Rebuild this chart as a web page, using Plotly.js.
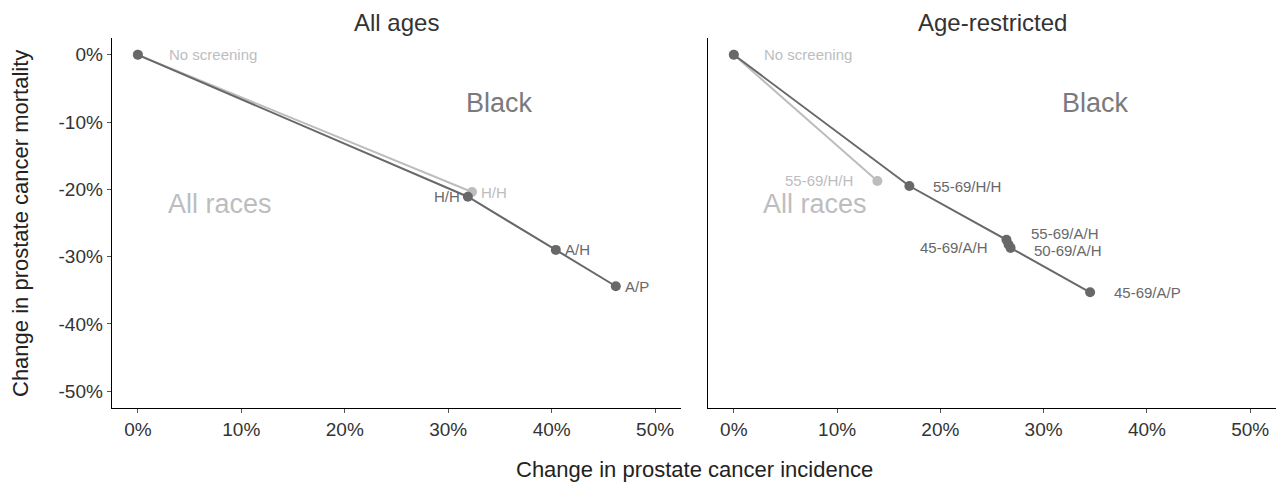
<!DOCTYPE html>
<html>
<head>
<meta charset="utf-8">
<script src="https://cdn.plot.ly/plotly-3.0.1.min.js"></script>
<style>html,body{margin:0;padding:0;background:#fff;}#chart{width:1282px;height:483px;}</style>
</head>
<body>
<div id="chart"></div>
<script>
// ---- Data (percent) ----
// Panel 1: All ages
const allAgesAllRacesX = [0, 32.3];
const allAgesAllRacesY = [0, -20.4];
const allAgesAllRacesLabels = ["No screening", "H/H"];
const allAgesBlackX = [0, 31.9, 40.4, 46.2];
const allAgesBlackY = [0, -21.1, -29.0, -34.4];
const allAgesBlackLabels = ["", "H/H", "A/H", "A/P"];
// Panel 2: Age-restricted
const ageRestAllRacesX = [0, 13.9];
const ageRestAllRacesY = [0, -18.75];
const ageRestAllRacesLabels = ["No screening", "55-69/H/H"];
const ageRestBlackX = [0, 17.0, 26.4, 26.6, 26.8, 34.5];
const ageRestBlackY = [0, -19.5, -27.5, -28.2, -28.7, -35.3];
const ageRestBlackLabels = ["", "55-69/H/H", "55-69/A/H", "50-69/A/H", "45-69/A/H", "45-69/A/P"];
const panelTitles = ["All ages", "Age-restricted"];
const xTickVals = [0, 10, 20, 30, 40, 50];
const xTickText = ["0%", "10%", "20%", "30%", "40%", "50%"];
const yTickVals = [0, -10, -20, -30, -40, -50];
const yTickText = ["0%", "-10%", "-20%", "-30%", "-40%", "-50%"];

const LIGHT = "#bdbdc0";
const DARK = "#68686b";
const FONT = "Liberation Sans, Arial, sans-serif";

function tr(x, y, color, xa, ya) {
  return {x: x, y: y, type: "scatter", mode: "lines+markers", xaxis: xa, yaxis: ya,
    line: {color: color, width: 2}, marker: {color: color, size: 10}, hoverinfo: "skip", showlegend: false};
}
const data = [
  tr(allAgesAllRacesX, allAgesAllRacesY, LIGHT, "x", "y"),
  tr(allAgesBlackX, allAgesBlackY, DARK, "x", "y"),
  tr(ageRestAllRacesX, ageRestAllRacesY, LIGHT, "x2", "y2"),
  tr(ageRestBlackX, ageRestBlackY, DARK, "x2", "y2")
];

const ann = [];
function lab(xs, ys, labels, i, xr, yr, color, xanchor, xshift, yshift) {
  ann.push({x: xs[i], y: ys[i], xref: xr, yref: yr, text: labels[i], showarrow: false,
    xanchor: xanchor, yanchor: "middle", xshift: xshift, yshift: yshift || 0, borderpad: 0,
    font: {family: FONT, size: 15, color: color}});
}
// Panel 1 labels
lab(allAgesAllRacesX, allAgesAllRacesY, allAgesAllRacesLabels, 0, "x", "y", LIGHT, "left", 30);
lab(allAgesAllRacesX, allAgesAllRacesY, allAgesAllRacesLabels, 1, "x", "y", LIGHT, "left", 8);
lab(allAgesBlackX, allAgesBlackY, allAgesBlackLabels, 1, "x", "y", DARK, "right", -7);
lab(allAgesBlackX, allAgesBlackY, allAgesBlackLabels, 2, "x", "y", DARK, "left", 8);
lab(allAgesBlackX, allAgesBlackY, allAgesBlackLabels, 3, "x", "y", DARK, "left", 8);
// Panel 2 labels
lab(ageRestAllRacesX, ageRestAllRacesY, ageRestAllRacesLabels, 0, "x2", "y2", LIGHT, "left", 29);
lab(ageRestAllRacesX, ageRestAllRacesY, ageRestAllRacesLabels, 1, "x2", "y2", LIGHT, "right", -23);
lab(ageRestBlackX, ageRestBlackY, ageRestBlackLabels, 1, "x2", "y2", DARK, "left", 23);
lab(ageRestBlackX, ageRestBlackY, ageRestBlackLabels, 2, "x2", "y2", DARK, "left", 24, 6);
lab(ageRestBlackX, ageRestBlackY, ageRestBlackLabels, 3, "x2", "y2", DARK, "left", 24, -6);
lab(ageRestBlackX, ageRestBlackY, ageRestBlackLabels, 4, "x2", "y2", DARK, "right", -22, 0);
lab(ageRestBlackX, ageRestBlackY, ageRestBlackLabels, 5, "x2", "y2", DARK, "left", 23);

// Group labels
[["x","y"],["x2","y2"]].forEach(function(r){
  ann.push({x: 35, y: -7.2, xref: r[0], yref: r[1], text: "Black", showarrow: false,
    xanchor: "center", yanchor: "middle", font: {family: FONT, size: 27, color: "#7a7a7d"}});
  ann.push({x: 7.9, y: -22.2, xref: r[0], yref: r[1], text: "All races", showarrow: false,
    xanchor: "center", yanchor: "middle", font: {family: FONT, size: 27, color: LIGHT}});
});

// Panel titles
ann.push({x: 0.3093, y: 1 - 22/483, xref: "paper", yref: "paper", text: panelTitles[0], showarrow: false,
  xanchor: "center", yanchor: "middle", font: {family: FONT, size: 24, color: "#333"}});
ann.push({x: 0.7738, y: 1 - 22/483, xref: "paper", yref: "paper", text: panelTitles[1], showarrow: false,
  xanchor: "center", yanchor: "middle", font: {family: FONT, size: 24, color: "#333"}});
// Axis titles
ann.push({x: 694/1282, y: 1 - 469/483, xref: "paper", yref: "paper", text: "Change in prostate cancer incidence",
  showarrow: false, xanchor: "center", yanchor: "middle", font: {family: FONT, size: 22, color: "#222"}});
ann.push({x: 20/1282, y: 1 - 224/483, xref: "paper", yref: "paper", text: "Change in prostate cancer mortality",
  showarrow: false, textangle: -90, xanchor: "center", yanchor: "middle", font: {family: FONT, size: 22, color: "#222"}});

function xax(domain, anchor) {
  return {domain: domain, anchor: anchor, range: [-2.5, 52.5], tickvals: xTickVals, ticktext: xTickText,
    showgrid: false, zeroline: false, showline: true, linecolor: "#000", linewidth: 1.3,
    ticks: "outside", ticklen: 4, tickcolor: "#555", tickwidth: 1,
    tickfont: {family: FONT, size: 19, color: "#333"}, fixedrange: true};
}
function yax(anchor, showLabels) {
  return {domain: [1 - 408/483, 1 - 38/483], anchor: anchor, range: [-52.5, 2.5], tickvals: yTickVals, ticktext: yTickText,
    showticklabels: showLabels, showgrid: false, zeroline: false, showline: true, linecolor: "#000", linewidth: 1.3,
    ticks: showLabels ? "outside" : "", ticklen: 4, tickcolor: "#555", tickwidth: 1,
    tickfont: {family: FONT, size: 19, color: "#333"}, fixedrange: true};
}

const layout = {
  width: 1282, height: 483,
  margin: {l: 0, r: 0, t: 0, b: 0},
  paper_bgcolor: "#fff", plot_bgcolor: "#fff",
  xaxis: xax([112/1282, 681/1282], "y"),
  yaxis: yax("x", true),
  xaxis2: xax([708/1282, 1276/1282], "y2"),
  yaxis2: yax("x2", false),
  annotations: ann,
  showlegend: false
};

Plotly.newPlot("chart", data, layout, {displayModeBar: false, staticPlot: true});
</script>
</body>
</html>
